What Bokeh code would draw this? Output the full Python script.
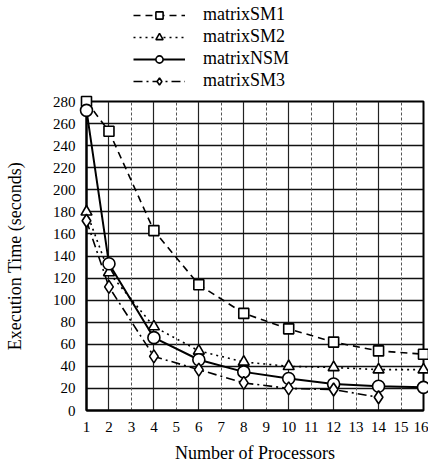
from bokeh.plotting import figure
from bokeh.models import Range1d, FixedTicker, Legend, LegendItem, Grid
from bokeh.layouts import column
from bokeh.embed import file_html
from bokeh.resources import INLINE

procs = [1, 2, 4, 6, 8, 10, 12, 14, 16]
procs_sm3 = [1, 2, 4, 6, 8, 10, 12, 14]
sm1 = [280, 253, 163, 114, 88, 74, 62, 54, 51]
sm2 = [180, 125, 76, 54, 44, 40, 39, 37, 37]
nsm = [272, 133, 66, 46, 35, 29, 24, 22, 21]
sm3 = [172, 112, 49, 37, 25, 20, 19, 12]
labels = ["matrixSM1", "matrixSM2", "matrixNSM", "matrixSM3"]
x_ticks = list(range(1, 17))
y_ticks = list(range(0, 281, 20))

FONT = "Liberation Serif"

series = [
    (procs, sm1, dict(line_dash="7 5", line_width=1.6), dict(marker="square", size=10)),
    (procs, sm2, dict(line_dash="2 4", line_width=1.6), dict(marker="triangle", size=11)),
    (procs, nsm, dict(line_width=2.0), dict(marker="circle", size=12)),
    (procs_sm3, sm3, dict(line_dash="9 4 2 4", line_width=1.6), dict(marker="diamond", size=13)),
]

# ---- main plot ----
p = figure(width=428, height=374, output_backend="svg", toolbar_location=None,
           x_range=Range1d(1, 16), y_range=Range1d(0, 280))
p.min_border_left = 86
p.min_border_right = 5
p.min_border_top = 10
p.min_border_bottom = 54
p.outline_line_color = "black"
p.outline_line_width = 2
p.background_fill_color = "white"

for ax in (p.xaxis[0], p.yaxis[0]):
    ax.axis_line_color = "black"
    ax.axis_line_width = 2
    ax.major_label_text_font = FONT
    ax.major_label_text_font_size = "15px"
    ax.major_label_text_color = "black"
    ax.axis_label_text_font = FONT
    ax.axis_label_text_font_size = "18px"
    ax.axis_label_text_font_style = "normal"
    ax.axis_label_text_color = "black"
    ax.major_tick_line_color = None
    ax.minor_tick_line_color = None
p.xaxis[0].ticker = FixedTicker(ticks=x_ticks)
p.yaxis[0].ticker = FixedTicker(ticks=y_ticks)
p.xaxis[0].axis_label = "Number of Processors"
p.yaxis[0].axis_label = "Execution Time (seconds)"
p.xaxis[0].major_label_standoff = 5
p.xaxis[0].axis_label_standoff = 8
p.yaxis[0].major_label_standoff = 5
p.yaxis[0].axis_label_standoff = 25

p.xgrid[0].ticker = FixedTicker(ticks=[t for t in x_ticks if t % 2 == 0])
p.xgrid[0].grid_line_color = "#222222"
p.xgrid[0].grid_line_width = 1.2
p.ygrid[0].ticker = FixedTicker(ticks=y_ticks)
p.ygrid[0].grid_line_color = "#111111"
p.ygrid[0].grid_line_width = 1.4
odd_grid = Grid(dimension=0, ticker=FixedTicker(ticks=[t for t in x_ticks if t % 2 == 1]),
                grid_line_color="#555555", grid_line_width=1, grid_line_dash="3 2")
p.add_layout(odd_grid)

for xs, ys, lkw, mkw in series:
    p.line(xs, ys, line_color="black", **lkw)
    p.scatter(xs, ys, fill_color="white", line_color="black", line_width=1.6,
              level="overlay", **mkw)

# ---- legend strip above the plot ----
lg = figure(width=428, height=91, output_backend="svg", toolbar_location=None,
            x_range=Range1d(1, 16), y_range=Range1d(1000, 1001),
            x_axis_location=None, y_axis_location=None)
lg.min_border_left = 0
lg.min_border_right = 0
lg.min_border_top = 0
lg.min_border_bottom = 0
lg.outline_line_color = None
lg.xgrid.visible = False
lg.ygrid.visible = False
items = []
for (xs, ys, lkw, mkw), lab in zip(series, labels):
    r1 = lg.line(xs, ys, line_color="black", **lkw)
    r2 = lg.scatter(xs, ys, fill_color="white", line_color="black", line_width=1.6, **mkw)
    items.append(LegendItem(label=lab, renderers=[r1, r2]))

legend = Legend(items=items, location=(47, 0), orientation="vertical",
                label_text_font=FONT, label_text_font_size="18px", label_text_color="black",
                glyph_width=52, glyph_height=18, label_height=18, spacing=1,
                label_standoff=18, padding=0, margin=0,
                border_line_color=None, background_fill_alpha=0)
lg.add_layout(legend, "center")

layout = column(lg, p, spacing=0)
open("out.html", "w").write(file_html(layout, INLINE))
